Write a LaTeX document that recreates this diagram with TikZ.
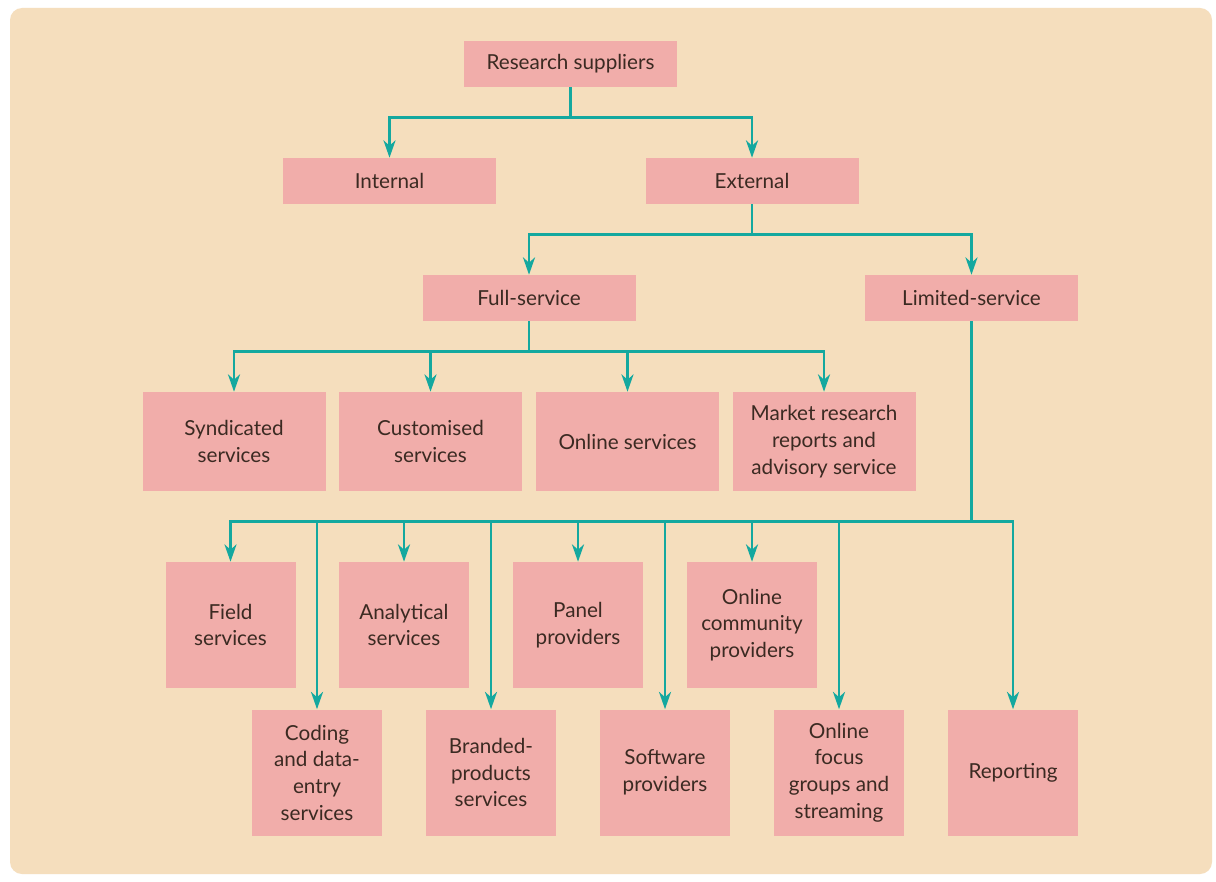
\documentclass[tikz,border=0pt]{standalone}
\usepackage{fontspec}
\setmainfont{Lato}
\usetikzlibrary{arrows.meta,calc}
\definecolor{panel}{HTML}{F5DEBD}
\definecolor{boxfill}{HTML}{F1ADAA}
\definecolor{linkteal}{HTML}{14A89F}
\definecolor{ink}{HTML}{3B2A22}
\begin{document}
\begin{tikzpicture}[x=0.75pt,y=-0.75pt,
    box/.style={fill=boxfill, text=ink, align=center, inner sep=0pt,
                font=\fontsize{15.5}{20}\selectfont},
    widebox/.style={box, minimum width=159.75pt, minimum height=34.5pt},
    midbox/.style={box, minimum width=137.25pt, minimum height=74.25pt},
    tallbox/.style={box, minimum width=97.5pt, minimum height=94.5pt},
    link/.style={draw=linkteal, line width=2pt},
    arr/.style={link, -{Stealth[length=13pt,width=9pt,inset=4pt]}}]
    % page and panel
    \fill[white] (0,0) rectangle (1216,881);
    \fill[panel, rounded corners=9pt] (10,8) rectangle (1212,874);

    % top levels
    \node [widebox] (rs) at (570.5,64) {Research suppliers};
    \node [widebox] (int) at (389.5,181) {Internal};
    \node [widebox] (ext) at (752,181) {External};
    \node [widebox] (full) at (529,298) {Full-service};
    \node [widebox] (lim) at (971.5,298) {Limited-service};

    % full-service row
    \node [midbox] (synd) at (234,441.5) {Syndicated\\services};
    \node [midbox] (cust) at (430.5,441.5) {Customised\\services};
    \node [midbox] (onl) at (627.5,441.5) {Online services};
    \node [midbox] (mkt) at (824,441.5) {Market research\\reports and\\advisory service};

    % limited-service rows
    \node [tallbox] (field) at (230.5,625) {Field\\services};
    \node [tallbox] (anal) at (404,625) {Analytical\\services};
    \node [tallbox] (panel) at (578,625) {Panel\\providers};
    \node [tallbox] (comm) at (752,625) {Online\\community\\providers};
    \node [tallbox] (code) at (317,772.5) {Coding\\and data-\\entry\\services};
    \node [tallbox] (brand) at (491,772.5) {Branded-\\products\\services};
    \node [tallbox] (soft) at (665,772.5) {Software\\providers};
    \node [tallbox] (focus) at (839,772.5) {Online\\focus\\groups and\\streaming};
    \node [tallbox] (rep) at (1013,772.5) {Reporting};

    % connectors
    \coordinate (j1) at ($(rs.south)+(0,30)$);
    \draw [link] (rs.south) -- (j1);
    \draw [arr] (j1) -| (int.north);
    \draw [arr] (j1) -| (ext.north);

    \coordinate (j2) at ($(ext.south)+(0,30)$);
    \draw [link] (ext.south) -- (j2);
    \draw [arr] (j2) -| (full.north);
    \draw [arr] (j2) -| (lim.north);

    \coordinate (j3) at ($(full.south)+(0,30)$);
    \draw [link] (full.south) -- (j3);
    \foreach \n in {synd,cust,onl,mkt}
        \draw [arr] (j3) -| (\n.north);

    \coordinate (j4) at ($(lim.south)+(0,200)$);
    \draw [link] (lim.south) -- (j4);
    \foreach \n in {field,code,anal,brand,panel,soft,comm,focus,rep}
        \draw [arr] (j4) -| (\n.north);
\end{tikzpicture}
\end{document}
